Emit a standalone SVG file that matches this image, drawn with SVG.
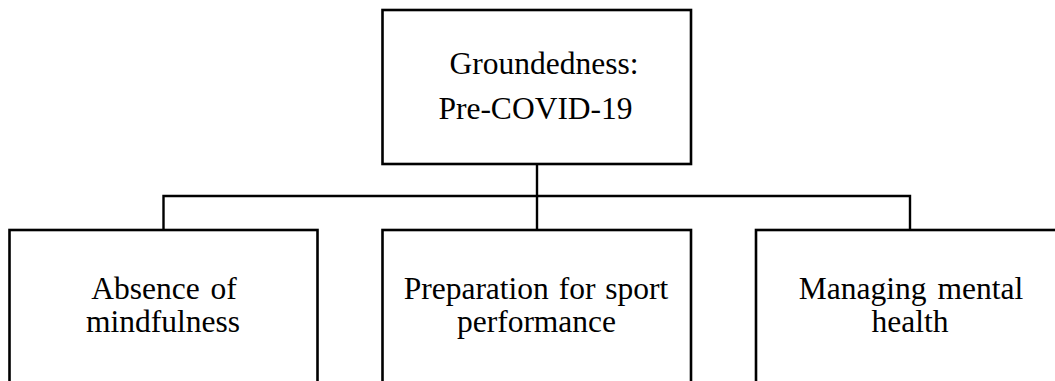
<svg xmlns="http://www.w3.org/2000/svg" width="1055" height="381" viewBox="0 0 1055 381">
  <style>
    .box { fill: #ffffff; stroke: #000000; stroke-width: 2.6; }
    .link { fill: none; stroke: #000000; stroke-width: 2.4; }
    .label { font-family: "Liberation Serif", "Times New Roman", serif; font-size: 31.5px; fill: #000000; text-anchor: middle; }
  </style>
  <rect width="1055" height="381" fill="#ffffff"/>

  <g id="connectors">
    <line class="link" x1="537" y1="164" x2="537" y2="230"/>
    <polyline class="link" points="163.5,230 163.5,196 910,196 910,230"/>
  </g>

  <g id="node-groundedness">
    <rect class="box" x="382.5" y="10" width="308.5" height="154"/>
    <text class="label" x="544" y="74">Groundedness:</text>
    <text class="label" x="535.5" y="119">Pre-COVID-19</text>
  </g>

  <g id="node-absence">
    <rect class="box" x="9.5" y="230" width="308" height="170"/>
    <text class="label" x="164" y="299" word-spacing="3">Absence of</text>
    <text class="label" x="163" y="331.5">mindfulness</text>
  </g>

  <g id="node-preparation">
    <rect class="box" x="382.5" y="230" width="308.5" height="170"/>
    <text class="label" x="536" y="299" word-spacing="2">Preparation for sport</text>
    <text class="label" x="536.5" y="331.5">performance</text>
  </g>

  <g id="node-managing">
    <rect class="box" x="756" y="230" width="320" height="170"/>
    <text class="label" x="911" y="299" word-spacing="3">Managing mental</text>
    <text class="label" x="910" y="331.5">health</text>
  </g>
</svg>
